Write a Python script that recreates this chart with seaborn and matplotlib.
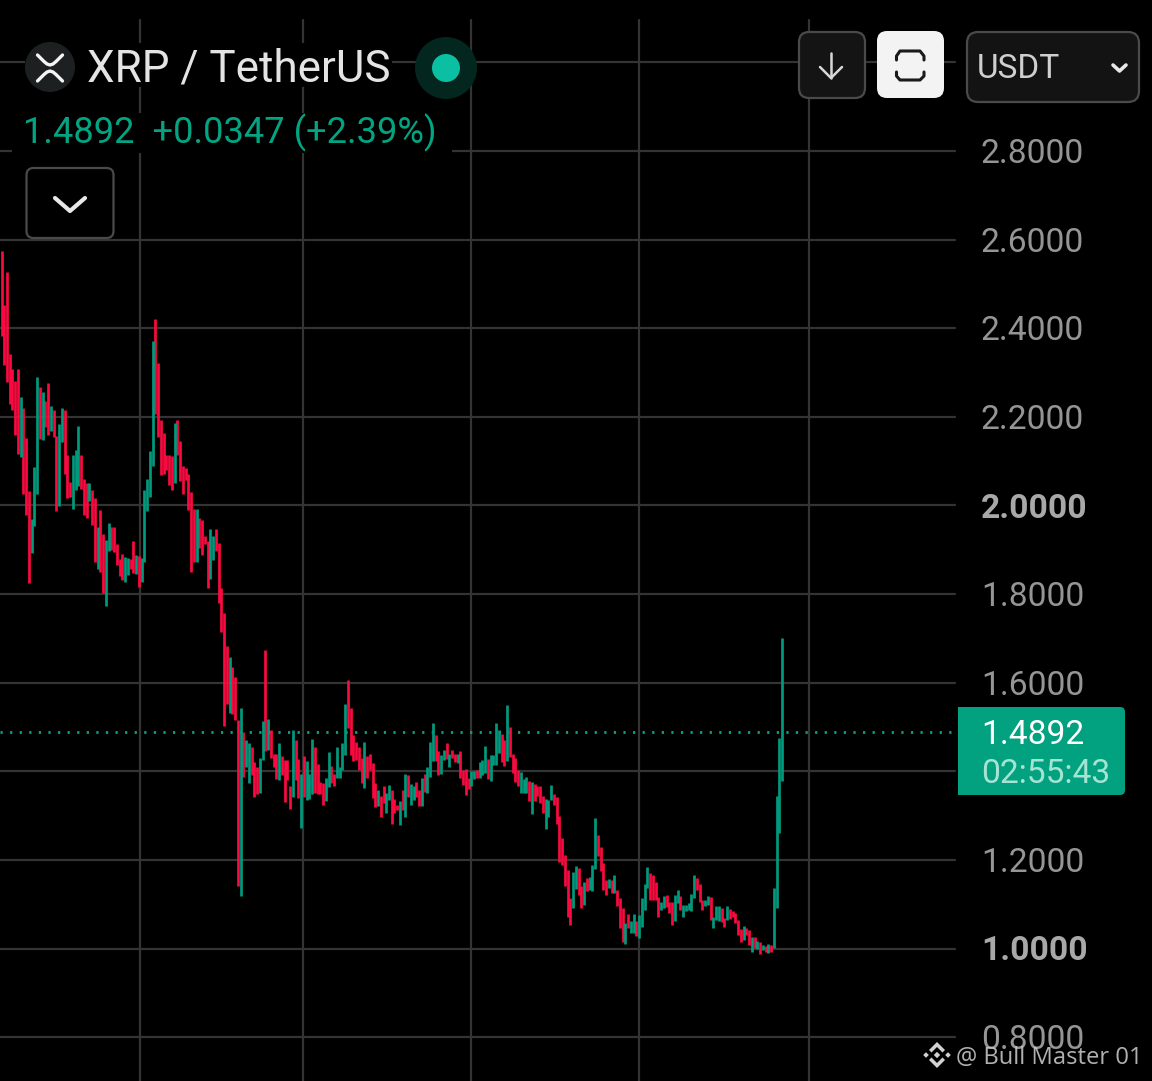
import pandas as pd
import matplotlib
matplotlib.use("Agg")
import matplotlib.pyplot as plt
import seaborn as sns
from matplotlib.patches import Circle, FancyBboxPatch, PathPatch, Polygon, Rectangle
from matplotlib.path import Path

# candle extremes, oldest first
highs = [
    2.574, 2.453, 2.527, 2.343, 2.307, 2.282, 2.308, 2.244, 2.220, 2.153,
    2.033, 1.970, 2.087, 2.289, 2.268, 2.256, 2.237, 2.277, 2.224, 2.216,
    2.156, 2.185, 2.220, 2.216, 2.115, 2.053, 2.113, 2.125, 2.179, 2.113,
    2.059, 2.050, 2.051, 2.034, 2.017, 1.952, 1.989, 1.936, 1.923, 1.961,
    1.952, 1.952, 1.912, 1.880, 1.891, 1.884, 1.882, 1.880, 1.919, 1.889,
    1.887, 1.882, 2.034, 2.059, 2.124, 2.372, 2.420, 2.322, 2.194, 2.164,
    2.113, 2.113, 2.111, 2.186, 2.194, 2.145, 2.089, 2.085, 2.070, 2.031,
    1.992, 1.992, 1.971, 1.968, 1.931, 1.919, 1.948, 1.932, 1.946, 1.916,
    1.814, 1.758,
    1.682, 1.658, 1.636, 1.613, 1.516, 1.544, 1.489, 1.470, 1.464, 1.455,
    1.421, 1.410, 1.429, 1.513, 1.673, 1.517, 1.494, 1.440, 1.439, 1.464,
    1.434, 1.425, 1.425, 1.367, 1.493, 1.470, 1.427, 1.395, 1.434, 1.423,
    1.395, 1.474, 1.454, 1.416, 1.376, 1.373, 1.386, 1.443, 1.412, 1.394,
    1.454, 1.410, 1.464, 1.553, 1.607, 1.542, 1.483, 1.467, 1.454, 1.429,
    1.467, 1.435, 1.438, 1.418, 1.373, 1.358, 1.344, 1.367, 1.350, 1.369,
    1.358, 1.337, 1.324, 1.333, 1.358, 1.395, 1.391, 1.371, 1.367, 1.376,
    1.358, 1.385, 1.395, 1.410, 1.467, 1.510, 1.483, 1.446, 1.437, 1.449,
    1.463, 1.440, 1.449, 1.438, 1.438, 1.446, 1.403, 1.406, 1.384, 1.401,
    1.401, 1.404, 1.421, 1.425, 1.457, 1.427,
    1.437, 1.437, 1.508, 1.493, 1.484, 1.471, 1.550, 1.501, 1.439, 1.431,
    1.403, 1.399, 1.383, 1.387, 1.377, 1.375, 1.372, 1.366, 1.366, 1.344,
    1.338, 1.335, 1.368, 1.349, 1.341, 1.298, 1.249, 1.211, 1.178, 1.115,
    1.172, 1.187, 1.181, 1.141, 1.151, 1.159, 1.162, 1.189, 1.294, 1.257,
    1.229, 1.193, 1.155, 1.157, 1.155, 1.165, 1.132, 1.115, 1.091, 1.057,
    1.078, 1.061, 1.078, 1.061, 1.076, 1.114, 1.146, 1.185, 1.170, 1.166,
    1.151, 1.117, 1.106, 1.119, 1.121, 1.106, 1.106, 1.121, 1.131, 1.119,
    1.099, 1.099, 1.102, 1.123, 1.165, 1.159, 1.146, 1.110, 1.110, 1.119,
    1.117, 1.071, 1.095, 1.095, 1.091, 1.069, 1.095, 1.089, 1.084, 1.081,
    1.065, 1.044, 1.050, 1.047, 1.042, 1.027, 1.026, 1.016, 1.014, 1.008,
    1.005, 1.010, 1.008, 1.136, 1.344, 1.476, 1.702,
]
lows = [
    2.382, 2.318, 2.278, 2.228, 2.215, 2.159, 2.117, 2.110, 2.027, 1.978,
    1.824, 1.892, 1.953, 2.027, 2.151, 2.147, 2.177, 2.160, 2.168, 2.154,
    1.987, 1.998, 2.144, 2.071, 2.016, 2.019, 1.992, 2.036, 2.045, 2.037,
    1.979, 1.972, 2.010, 1.956, 1.873, 1.856, 1.850, 1.803, 1.774, 1.897,
    1.899, 1.895, 1.865, 1.840, 1.831, 1.828, 1.844, 1.856, 1.848, 1.846,
    1.815, 1.828, 1.872, 1.987, 2.019, 2.089, 2.207, 2.155, 2.068, 2.071,
    2.081, 2.047, 2.036, 2.050, 2.115, 2.055, 2.027, 2.057, 1.989, 1.850,
    1.872, 1.873, 1.903, 1.889, 1.912, 1.813, 1.835, 1.877, 1.897, 1.780,
    1.714, 1.503,
    1.553, 1.531, 1.529, 1.516, 1.140, 1.118, 1.388, 1.410, 1.373, 1.391,
    1.343, 1.349, 1.350, 1.425, 1.446, 1.449, 1.429, 1.410, 1.382, 1.380,
    1.391, 1.331, 1.380, 1.314, 1.341, 1.380, 1.339, 1.271, 1.343, 1.335,
    1.337, 1.349, 1.350, 1.349, 1.348, 1.324, 1.334, 1.365, 1.373, 1.367,
    1.386, 1.386, 1.404, 1.437, 1.497, 1.437, 1.424, 1.425, 1.403, 1.373,
    1.363, 1.384, 1.403, 1.339, 1.320, 1.322, 1.297, 1.328, 1.305, 1.335,
    1.281, 1.306, 1.312, 1.279, 1.312, 1.296, 1.341, 1.324, 1.335, 1.341,
    1.322, 1.322, 1.354, 1.352, 1.388, 1.424, 1.424, 1.391, 1.394, 1.425,
    1.428, 1.410, 1.429, 1.422, 1.419, 1.384, 1.369, 1.346, 1.361, 1.367,
    1.382, 1.384, 1.384, 1.391, 1.397, 1.382,
    1.379, 1.414, 1.414, 1.441, 1.420, 1.412, 1.423, 1.433, 1.396, 1.375,
    1.366, 1.351, 1.351, 1.351, 1.332, 1.304, 1.334, 1.345, 1.329, 1.305,
    1.269, 1.296, 1.335, 1.324, 1.281, 1.196, 1.189, 1.142, 1.071, 1.053,
    1.091, 1.134, 1.121, 1.091, 1.099, 1.129, 1.131, 1.129, 1.179, 1.208,
    1.174, 1.132, 1.121, 1.136, 1.125, 1.125, 1.095, 1.047, 1.014, 1.011,
    1.046, 1.035, 1.036, 1.029, 1.023, 1.048, 1.087, 1.136, 1.110, 1.110,
    1.110, 1.071, 1.086, 1.091, 1.093, 1.080, 1.053, 1.063, 1.102, 1.087,
    1.072, 1.084, 1.087, 1.085, 1.114, 1.131, 1.104, 1.086, 1.096, 1.099,
    1.065, 1.047, 1.065, 1.061, 1.059, 1.048, 1.065, 1.066, 1.071, 1.057,
    1.031, 1.014, 1.020, 1.031, 1.008, 0.993, 1.001, 0.999, 0.987, 0.997,
    0.991, 0.990, 0.991, 1.001, 1.091, 1.260, 1.379,
]
# u = green candle, d = red candle, same order as highs and lows
sides = list((
    "ddddd ddudd duuud uddud duudd duuud ddudd udduu ddddd uuddu "
    "duuuu udddd dddud ddddd duddd duudd dd "
    "duddd uduud dduud udddu ddddu ddudu uuddd duudd uuuud ddddd "
    "uddddudduu dddududuud duduuudduu dudduddddu uduuud "
    "uuuud duddd duuud udddd uuudd ddddd uuddu duuud dddud udddu "
    "duudu uuudd dduud dduud uuuuu ddduu duuud duddd ddudd ududu "
    "duduu uu"
).replace(" ", ""))
last_price = 1.4892
price_ticks = [3.0, 2.8, 2.6, 2.4, 2.2, 2.0, 1.8, 1.6, 1.4, 1.2, 1.0, 0.8]
tick_labels = ["2.8000", "2.6000", "2.4000", "2.2000", "2.0000", "1.8000",
               "1.6000", "1.2000", "1.0000", "0.8000"]
bold_labels = ["2.0000", "1.0000"]

W, H = 1152, 1081
GREEN = "#009a7c"
RED = "#fb0a40"
GRID = "#343434"
TEXT = "#959595"


def price_y(p):
    return 948.5 - (p - 1.0) * 443


sns.set_theme(style="dark", rc={"axes.facecolor": "black", "figure.facecolor": "black"})
plt.rcParams["font.family"] = ["Roboto", "DejaVu Sans"]

fig = plt.figure(figsize=(W / 100, H / 100), dpi=100)
ax = fig.add_axes([0, 0, 1, 1])

# one vertical bar per candle, long form so seaborn draws them
n = len(highs)
step = (782 - 1.5) / (n - 1)
df = pd.DataFrame({"i": range(n), "high": highs, "low": lows, "side": sides})
long_df = df.melt(id_vars=["i", "side"], value_vars=["high", "low"], value_name="price")

ax.set_xlim(-1.5 / step, (W - 1.5) / step)
ax.set_ylim(1.0 - (H - 948.5) / 443, 1.0 + 948.5 / 443)
ax.axis("off")

for px in [140, 302.5, 470.5, 638.5, 809]:
    ax.axvline((px - 1.5) / step, ymin=0, ymax=1 - 20 / H, color=GRID, lw=1.6, zorder=1)
for p in price_ticks:
    ax.axhline(p, xmin=0, xmax=955 / W, color=GRID, lw=1.6, zorder=1)

sns.lineplot(data=long_df, x="i", y="price", hue="side", units="i", estimator=None,
             palette={"u": GREEN, "d": RED}, hue_order=["d", "u"], lw=1.95, legend=False,
             solid_capstyle="butt", ax=ax, zorder=3)
ax.set_xlabel("")
ax.set_ylabel("")
ax.axhline(last_price, xmin=0, xmax=955 / W, color="#02a884", lw=2.0, dashes=(0.8, 2.65),
           dash_capstyle="butt", zorder=2)

# header and price scale are drawn in pixel coordinates on top
ui = fig.add_axes([0, 0, 1, 1], facecolor="none")
ui.set_xlim(0, W)
ui.set_ylim(H, 0)
ui.axis("off")


def box(x0, y0, x1, y1, face, edge="none", r=9, lw=1.6):
    ui.add_patch(FancyBboxPatch((x0, y0), x1 - x0, y1 - y0, boxstyle=f"round,pad=0,rounding_size={r}",
                                fc=face, ec=edge, lw=lw))


def stroke(points, color, lw=2.0):
    ui.plot([q[0] for q in points], [q[1] for q in points], color=color, lw=lw,
            solid_capstyle="round", solid_joinstyle="round")


# black backing behind the legend rows
ui.add_patch(Rectangle((25, 43), 367, 44, fc="black", ec="none"))
ui.add_patch(Rectangle((12, 113), 440, 40, fc="black", ec="none"))

# xrp icon
ui.add_patch(Circle((50, 67), 25, fc="#1c2020", ec="none"))
stroke([(37.5, 55), (44, 61.5), (47, 64), (50, 65), (53, 64), (56, 61.5), (62.5, 55)], "#f4f4f4", 2.4)
stroke([(37.5, 81), (44, 74.5), (47, 72), (50, 71), (53, 72), (56, 74.5), (62.5, 81)], "#f4f4f4", 2.4)
ui.text(87, 82, "XRP / TetherUS", color="#e4e4e4", fontsize=31.7, va="baseline")

# live status dot
ui.add_patch(Circle((446, 68), 31, fc="#03261f", ec="none"))
ui.add_patch(Circle((446, 68), 14, fc="#0bbfa3", ec="none"))

ui.text(23, 143, "1.4892  +0.0347 (+2.39%)", color="#03a482", fontsize=26.1, va="baseline")

# collapse button
box(26.5, 168, 113.5, 238, "black", "#4a4a4a", r=7)
stroke([(55, 198), (70, 211), (85, 198)], "#e8e8e8", 3.0)

# scroll-to-latest button
box(799, 32, 865, 98, "#141414", "#4a4a4a", r=10)
stroke([(831, 53), (831, 78)], "#d8d8d8", 1.8)
stroke([(820, 67), (831, 78), (842, 67)], "#d8d8d8", 1.8)

# white toggle button
box(877, 31, 944, 98, "#f3f3f3", r=10)
stroke([(896.5, 60), (896.5, 56), (900, 51), (920, 51), (924, 56), (924, 60)], "#1a1a1a", 2.2)
stroke([(896.5, 72), (896.5, 76), (900, 80), (920, 80), (924, 76), (924, 72)], "#1a1a1a", 2.2)

# currency dropdown
box(967, 32, 1139, 102, "#131313", "#4a4a4a", r=11)
ui.text(977, 78, "USDT", color="#cfcfcf", fontsize=24, va="baseline")
stroke([(1113, 65), (1119.5, 71), (1126, 65)], "#e8e8e8", 2.6)

# price scale
for label in tick_labels:
    bold = label in bold_labels
    ui.text(981, price_y(float(label)) - 0.5, label, color="#a8a8a8" if bold else TEXT, fontsize=24.2,
            fontweight="bold" if bold else "normal", va="center_baseline")

# last price tag
ui.add_patch(FancyBboxPatch((958, 707), 167, 88, boxstyle="round,pad=0,rounding_size=5", fc="#02a17f", ec="none"))
ui.add_patch(Rectangle((958, 707), 12, 88, fc="#02a17f", ec="none"))
ui.text(981, price_y(last_price) - 0.5, "1.4892", color="white", fontsize=24.2, va="center_baseline")
ui.text(981, 770.5, "02:55:43", color="#a5e3d3", fontsize=24.2, va="center_baseline")

# watermark
logo = "#d2d2d2"
cx, cy = 937, 1055
ui.add_patch(Polygon([(cx, cy - 13), (cx + 8, cy - 5), (cx + 5.5, cy - 2.5), (cx, cy - 8),
                      (cx - 5.5, cy - 2.5), (cx - 8, cy - 5)], fc=logo, ec="none"))
ui.add_patch(Polygon([(cx, cy + 13), (cx + 8, cy + 5), (cx + 5.5, cy + 2.5), (cx, cy + 8),
                      (cx - 5.5, cy + 2.5), (cx - 8, cy + 5)], fc=logo, ec="none"))
for ox, s in [(0, 3.2), (-11, 2.8), (11, 2.8)]:
    ui.add_patch(Polygon([(cx + ox, cy - s), (cx + ox + s, cy), (cx + ox, cy + s), (cx + ox - s, cy)],
                         fc=logo, ec="none"))
ui.text(956, 1055, "@ Bull Master 01", color="#c4c4c4", fontsize=17.1, va="center_baseline",
        family="Open Sans", alpha=0.9)

fig.savefig("out.png", dpi=100, facecolor="black")
